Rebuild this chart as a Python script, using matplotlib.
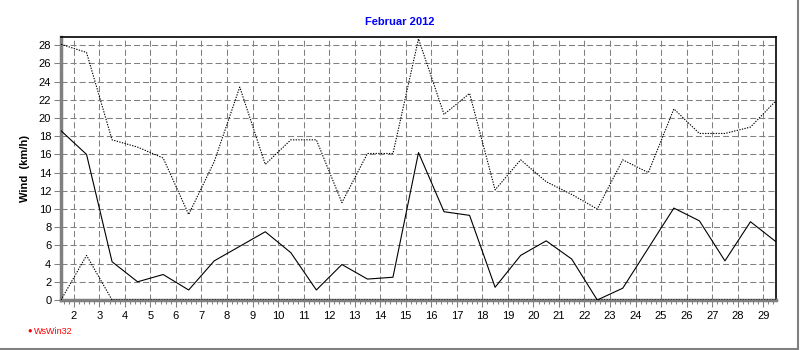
import matplotlib
matplotlib.use("Agg")
import matplotlib.pyplot as plt
from matplotlib.lines import Line2D
import numpy as np

# x positions: data points at half-day positions 1.5 .. 29.5
days = [1.5, 2.5, 3.5, 4.5, 5.5, 6.5, 7.5, 8.5, 9.5, 10.5, 11.5, 12.5, 13.5, 14.5,
        15.5, 16.5, 17.5, 18.5, 19.5, 20.5, 21.5, 22.5, 23.5, 24.5, 25.5, 26.5,
        27.5, 28.5, 29.5]
wind_mean = [18.6, 16.0, 4.2, 2.0, 2.8, 1.1, 4.3, 5.9, 7.5, 5.2, 1.1, 3.9, 2.3, 2.5,
             16.2, 9.7, 9.3, 1.4, 4.9, 6.5, 4.5, 0.0, 1.3, 5.7, 10.1, 8.7, 4.3, 8.6, 6.4]
wind_max = [28.1, 27.2, 17.6, 16.8, 15.6, 9.4, 15.2, 23.4, 14.9, 17.6, 17.6, 10.7, 16.1, 16.1,
            28.7, 20.4, 22.7, 12.1, 15.4, 13.0, 11.6, 10.0, 15.4, 14.0, 21.0, 18.3, 18.3, 19.0, 21.9]
wind_min = [0.0, 4.9, 0.0, 0.0, 0.0, 0.0, 0.0, 0.0, 0.0, 0.0, 0.0, 0.0, 0.0, 0.0,
            0.0, 0.0, 0.0, 0.0, 0.0, 0.0, 0.0, 0.0, 0.0, 0.0, 0.0, 0.0, 0.0, 0.0, 0.0]
day_ticks = list(range(2, 30))
y_ticks = list(range(0, 29, 2))

plt.rcParams['font.family'] = ['Liberation Sans', 'DejaVu Sans']

fig = plt.figure(figsize=(8, 3.5), dpi=100)
ax = fig.add_axes([61/800, 1-300/350, (776-61)/800, (300-37)/350])

grid_kw = dict(color='#808080', linewidth=0.75, linestyle=(0, (5.8, 2.9)))
ax.set_xlim(1.5, 29.5)
ax.set_ylim(0, 28.9)
ax.set_xticks(day_ticks)
ax.set_yticks(y_ticks)
ax.set_xticks(np.arange(1.6, 29.5, 0.2), minor=True)
ax.grid(True, which='major', **grid_kw)
ax.set_axisbelow(True)

ax.plot(days, wind_max, color='black', linewidth=0.8, linestyle=(0, (1.2, 1.2)), zorder=3)
ax.plot(days, wind_min, color='black', linewidth=0.8, linestyle=(0, (1.2, 1.2)), zorder=3)
ax.plot(days, wind_mean, color='black', linewidth=0.8, linestyle='-', zorder=3)

for s in ['top', 'right']:
    ax.spines[s].set_color('black')
    ax.spines[s].set_linewidth(1.2)
for s in ['left', 'bottom']:
    ax.spines[s].set_color('#808080')
    ax.spines[s].set_linewidth(2.5)

ax.tick_params(axis='both', which='major', labelsize=8, colors='#808080',
               labelcolor='black', length=5, width=0.75)
ax.tick_params(axis='x', which='minor', colors='#808080', length=3, width=0.75)
ax.tick_params(axis='x', pad=3)
ax.tick_params(axis='y', pad=2)

ax.set_ylabel('Wind  (km/h)', fontsize=8, fontweight='bold', labelpad=6)
fig.text(0.5, 1-22/350, 'Februar 2012', ha='center', va='center', color='#0000ff',
         fontsize=8, fontweight='bold')

# WsWin32 marker
fig.text(30/800, 1-331/350, '\u25cf', ha='center', va='center', color='#ff0000', fontsize=5.5)
fig.text(34/800, 1-331/350, 'WsWin32', ha='left', va='center', color='#ff0000', fontsize=6.5)

# figure border (right and bottom)
fig.add_artist(Line2D([797.5/800, 797.5/800], [1-349/350, 1.0], transform=fig.transFigure,
                      color='#808080', linewidth=1.5))
fig.add_artist(Line2D([0, 797.5/800], [1-349/350, 1-349/350], transform=fig.transFigure,
                      color='#808080', linewidth=1.5))

fig.savefig('out.png', dpi=100)
